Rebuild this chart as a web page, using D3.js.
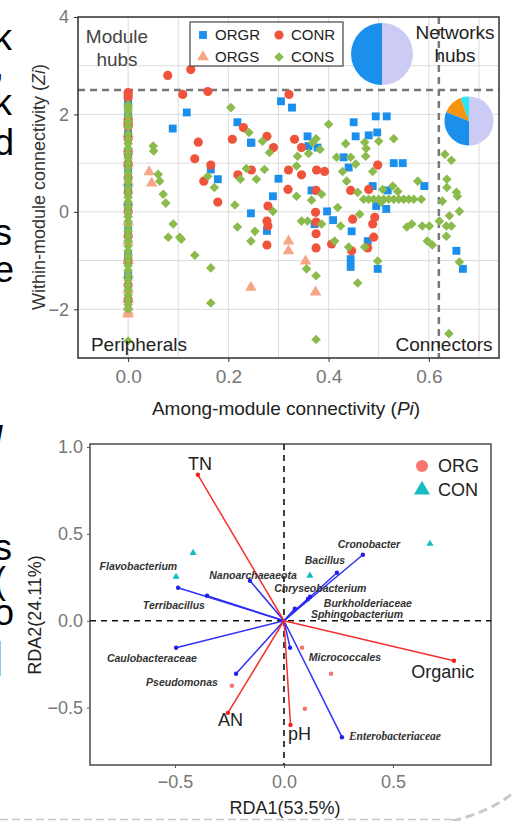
<!DOCTYPE html>
<html><head><meta charset="utf-8">
<script src="https://cdn.jsdelivr.net/npm/d3@7"></script>
<style>html,body{margin:0;padding:0;background:#fff;}svg{display:block;}</style>
</head><body>
<svg id="c" width="513" height="821"></svg>
<script>
// ---------- Top chart data (Zi-Pi) : [Pi, Zi] ----------
const orgrPts = [[0.117,2.04],[0.089,1.71],[0.218,1.84],[0.245,1.42],[0.165,0.87],[0.179,0.67],[0.245,-0.03],[0.305,2.27],[0.327,2.14],[0.494,1.96],[0.516,1.96],[0.45,1.84],[0.454,1.55],[0.48,1.57],[0.497,1.63],[0.358,1.55],[0.36,1.35],[0.378,1.32],[0.246,1.42],[0.43,1.12],[0.44,0.91],[0.53,1.0],[0.548,1.0],[0.3,0.68],[0.591,0.53],[0.366,0.44],[0.488,0.53],[0.518,0.44],[0.289,0.32],[0.277,-0.39],[0.372,-0.25],[0.397,0.01],[0.409,-0.17],[0.446,-0.4],[0.444,-0.97],[0.444,-1.13],[0.478,-0.6],[0.495,0.12],[0.515,0.06],[0.498,-1.17],[0.655,-0.8],[0.668,-1.17]];
const orgrCol = [2.3,2.2,1.95,1.9,1.6,1.2,0.9,0.5,0.1,-0.4,-0.9,-1.3];
const conrPts = [[0.079,2.80],[0.125,2.92],[0.109,2.41],[0.159,2.47],[0.23,1.73],[0.208,1.49],[0.14,1.43],[0.133,1.09],[0.165,0.96],[0.151,0.63],[0.219,0.76],[0.246,0.86],[0.179,0.2],[0.321,2.41],[0.332,1.49],[0.346,1.32],[0.277,1.55],[0.29,1.32],[0.498,0.96],[0.32,0.86],[0.346,0.76],[0.376,0.86],[0.392,0.83],[0.319,0.46],[0.375,0.44],[0.444,0.44],[0.48,0.46],[0.279,0.12],[0.277,-0.19],[0.279,-0.29],[0.277,-0.68],[0.374,-0.01],[0.375,-0.21],[0.375,-0.45],[0.375,-0.74],[0.406,-0.66],[0.446,-0.8],[0.448,-0.15],[0.478,-0.74],[0.49,-0.52],[0.488,-0.25],[0.492,-0.11]];
const conrCol = [2.45,2.4,2.35,1.9,1.85,1.8,1.75,1.5,1.2,1.0,0.7,0.4,0.0,-0.5,-1.0,-1.5,-1.8];
const orgsPts = [[0.042,0.82],[0.047,0.59],[0.245,-1.55],[0.32,-0.6],[0.32,-0.8],[0.354,-1.01],[0.374,-1.65]];
const orgsCol = [-2.1,-2.05,-1.95,-1.8,-1.6,-1.3,-1.0,-0.6,-0.2,0.2,0.6,1.0,1.3,1.6];
const consPts = [[0.205,2.14],[0.241,1.63],[0.05,1.35],[0.051,1.25],[0.06,0.77],[0.063,0.63],[0.07,0.36],[0.159,0.73],[0.172,0.5],[0.224,0.67],[0.236,0.89],[0.075,0.18],[0.09,-0.25],[0.08,-0.52],[0.103,-0.52],[0.106,-0.56],[0.133,-0.89],[0.165,-1.15],[0.165,-1.87],[0.213,0.14],[0.218,-0.31],[0.245,-0.6],[0.253,-0.4],[0.4,1.8],[0.53,1.5],[0.5,1.45],[0.434,1.4],[0.472,1.43],[0.475,1.3],[0.375,1.5],[0.368,1.42],[0.383,1.28],[0.36,1.2],[0.268,1.45],[0.282,1.22],[0.338,1.14],[0.416,1.12],[0.444,1.12],[0.474,1.14],[0.454,0.98],[0.488,0.83],[0.336,0.94],[0.428,0.83],[0.436,0.63],[0.256,0.67],[0.272,0.87],[0.632,1.18],[0.645,1.06],[0.578,0.63],[0.636,0.67],[0.636,0.5],[0.655,0.4],[0.386,0.36],[0.458,0.4],[0.508,0.46],[0.528,0.53],[0.538,0.42],[0.336,0.32],[0.47,0.26],[0.48,0.26],[0.49,0.26],[0.50,0.26],[0.51,0.26],[0.52,0.26],[0.53,0.26],[0.54,0.26],[0.55,0.26],[0.56,0.26],[0.57,0.26],[0.585,0.26],[0.289,0.01],[0.346,-0.19],[0.358,-0.19],[0.386,-0.25],[0.366,0.24],[0.356,-1.17],[0.375,-1.31],[0.458,-1.46],[0.375,-2.62],[0.418,0.09],[0.424,-0.29],[0.412,-0.6],[0.44,-0.72],[0.462,-0.05],[0.472,-0.72],[0.505,0.2],[0.498,-1.01],[0.556,-0.31],[0.566,-0.25],[0.587,-0.29],[0.601,-0.29],[0.597,-0.6],[0.607,-0.68],[0.627,0.22],[0.641,-0.08],[0.661,0.01],[0.621,-0.19],[0.635,-0.29],[0.645,-0.29],[0.635,-0.5],[0.657,0.32],[0.661,-1.03],[0.64,-2.5]];
const consCol = [2.2,2.15,2.1,2.05,1.95,1.85,1.75,1.6,1.5,1.4,1.3,1.2,1.1,1.0,0.9,0.8,0.7,0.6,0.5,0.4,0.3,0.2,0.1,0.0,-0.1,-0.2,-0.3,-0.4,-0.5,-0.6,-0.7,-0.8,-0.9,-1.0,-1.1,-1.2,-1.3,-1.4,-1.5,-1.6,-1.7,-1.8,-1.9,-2.0,-2.65];
const seriesNames = ["ORGR","CONR","ORGS","CONS"];
const seriesColors = {ORGR:"#1b8fec", CONR:"#f0533b", ORGS:"#f7a585", CONS:"#8bbb4c"};
const xTicksTop = [0.0,0.2,0.4,0.6];
const yTicksTop = [-2,0,2,4];
const ziThreshold = 2.5, piThreshold = 0.62;
const pieBig = [0.5,0.5];            // lavender, blue
const pieSmall = [0.5,0.31,0.135,0.055]; // lavender, blue, orange, cyan
const pieBigColors = ["#cccbf6","#1b8fec"];
const pieSmallColors = ["#cccbf6","#1b8fec","#f5950f","#28e6f2"];

// ---------- Bottom chart data (RDA) ----------
const envNames = ["TN","Organic","pH","AN"];
const envX = [-0.395,0.78,0.03,-0.257];
const envY = [0.84,-0.23,-0.60,-0.53];
const envLabX = [-0.385,0.729,0.071,-0.245];
const envLabY = [0.902,-0.293,-0.649,-0.569];
const taxaNames = ["Flavobacterium","Terribacillus","Nanoarchaeaeota","Caulobacteraceae","Pseudomonas","Cronobacter","Bacillus","Chryseobacterium","Burkholderiaceae","Sphingobacterium","Micrococcales","Enterobacteriaceae"];
const taxaX = [-0.486,-0.353,-0.156,-0.495,-0.22,0.362,0.243,0.12,0.11,0.05,0.028,0.266];
const taxaY = [0.19,0.144,0.23,-0.155,-0.305,0.38,0.276,0.138,0.125,0.07,-0.155,-0.67];
const taxaLabX = [-0.668,-0.505,-0.142,-0.606,-0.468,0.39,0.188,0.167,0.385,0.335,0.28,0.509];
const taxaLabY = [0.316,0.092,0.264,-0.218,-0.356,0.443,0.351,0.19,0.103,0.04,-0.207,-0.661];
const orgSamples = [[0.083,-0.155],[0.216,-0.305],[0.096,-0.506],[-0.239,-0.374]];
const conSamples = [[-0.417,0.39],[-0.495,0.253],[0.119,0.259],[0.67,0.443]];
const xTicksB = [-0.5,0.0,0.5];
const yTicksB = [-0.5,0.0,0.5,1.0];

const FONT = "'Liberation Sans', Arial, Helvetica, sans-serif";
const svg = d3.select("#c");
svg.append("rect").attr("width",513).attr("height",821).attr("fill","#fff");

// ---------- Top chart ----------
const xT = d3.scaleLinear().domain([-0.1,0.74]).range([78,499]);
const yT = d3.scaleLinear().domain([-3,4]).range([358,17]);
const gT = svg.append("g");
gT.selectAll(".gx").data(d3.range(-1,8).map(i=>i/10)).join("line")
  .attr("x1",d=>xT(d)).attr("x2",d=>xT(d)).attr("y1",17).attr("y2",358)
  .attr("stroke","#dcdcdc").attr("stroke-width",1);
gT.selectAll(".gy").data(d3.range(-3,5)).join("line")
  .attr("y1",d=>yT(d)).attr("y2",d=>yT(d)).attr("x1",78).attr("x2",499)
  .attr("stroke","#dcdcdc").attr("stroke-width",1);
gT.append("line").attr("x1",78).attr("x2",499).attr("y1",yT(ziThreshold)).attr("y2",yT(ziThreshold))
  .attr("stroke","#777").attr("stroke-width",2.5).attr("stroke-dasharray","7,5");
gT.append("line").attr("x1",xT(piThreshold)).attr("x2",xT(piThreshold)).attr("y1",17).attr("y2",358)
  .attr("stroke","#777").attr("stroke-width",2.5).attr("stroke-dasharray","7,5");

const sym = {
  ORGR: d3.symbol().type(d3.symbolSquare).size(62),
  CONR: d3.symbol().type(d3.symbolCircle).size(66),
  ORGS: d3.symbol().type(d3.symbolTriangle).size(58),
  CONS: d3.symbol().type(d3.symbolSquare).size(46)
};
function drawSeries(name, pts){
  gT.append("g").selectAll("path").data(pts).join("path")
    .attr("d", sym[name]())
    .attr("transform", d=>`translate(${xT(d[0])},${yT(d[1])})` + (name==="CONS"?" rotate(45)":""))
    .attr("fill", seriesColors[name]);
}
drawSeries("ORGS", orgsCol.map(v=>[0,v]).concat(orgsPts));
drawSeries("ORGR", orgrCol.map(v=>[0,v]).concat(orgrPts));
drawSeries("CONR", conrCol.map(v=>[0,v]).concat(conrPts));
drawSeries("CONS", consCol.map(v=>[0,v]).concat(consPts));

gT.append("rect").attr("x",78).attr("y",17).attr("width",421).attr("height",341)
  .attr("fill","none").attr("stroke","#333").attr("stroke-width",1.5);
const axB = gT.append("g").attr("transform","translate(0,358)")
  .call(d3.axisBottom(xT).tickValues(xTicksTop).tickFormat(d3.format(".1f")).tickSize(4).tickSizeOuter(0));
axB.select(".domain").remove();
axB.selectAll("line").attr("stroke","#333");
axB.selectAll("text").attr("font-family",FONT).attr("font-size",19).attr("fill","#777").attr("dy","0.95em");
const axL = gT.append("g").attr("transform","translate(78,0)")
  .call(d3.axisLeft(yT).tickValues(yTicksTop).tickFormat(d3.format("d")).tickSize(4).tickSizeOuter(0));
axL.select(".domain").remove();
axL.selectAll("line").attr("stroke","#333");
axL.selectAll("text").attr("font-family",FONT).attr("font-size",18).attr("fill","#777").attr("x",-9);

const xt = gT.append("text").attr("x",286).attr("y",415).attr("text-anchor","middle")
  .attr("font-family",FONT).attr("font-size",19).attr("fill","#222");
xt.append("tspan").text("Among-module connectivity (");
xt.append("tspan").attr("font-style","italic").text("Pi");
xt.append("tspan").text(")");
const yt = gT.append("text").attr("transform","translate(45,187) rotate(-90)").attr("text-anchor","middle")
  .attr("font-family",FONT).attr("font-size",18).attr("fill","#333");
yt.append("tspan").text("Within-module connectivity (");
yt.append("tspan").attr("font-style","italic").text("Zi");
yt.append("tspan").text(")");

const qStyle = s=>s.attr("font-family",FONT).attr("font-size",19).attr("fill","#222").attr("text-anchor","middle");
gT.append("text").call(qStyle).attr("x",117).attr("y",43).attr("fill","#444").text("Module");
gT.append("text").call(qStyle).attr("x",117).attr("y",66).attr("fill","#444").text("hubs");
gT.append("text").call(qStyle).attr("x",455).attr("y",39).text("Networks");
gT.append("text").call(qStyle).attr("x",455).attr("y",62).text("hubs");
gT.append("text").call(qStyle).attr("x",139).attr("y",351).text("Peripherals");
gT.append("text").call(qStyle).attr("x",444).attr("y",351).text("Connectors");

const lg = gT.append("g");
lg.append("rect").attr("x",190).attr("y",22).attr("width",153).attr("height",44)
  .attr("fill","#fff").attr("stroke","#444").attr("stroke-width",1.2);
const legendItems = [["ORGR",203,35],["CONR",279,35],["ORGS",203,57],["CONS",279,57]];
legendItems.forEach(([n,x,y])=>{
  lg.append("path").attr("d",sym[n]()).attr("fill",seriesColors[n])
    .attr("transform",`translate(${x},${y})`+(n==="CONS"?" rotate(45)":""));
  lg.append("text").attr("x",x+12).attr("y",y).attr("dy","0.36em")
    .attr("font-family",FONT).attr("font-size",15).attr("fill","#222").text(n);
});

const pieGen = d3.pie().sort(null).value(d=>d);
function drawPie(vals, cols, cx, cy, r){
  const arc = d3.arc().innerRadius(0).outerRadius(r);
  gT.append("g").attr("transform",`translate(${cx},${cy})`)
    .selectAll("path").data(pieGen(vals)).join("path")
    .attr("d",arc).attr("fill",(d,i)=>cols[i]);
}
drawPie(pieBig, pieBigColors, 382, 54, 31);
drawPie(pieSmall, pieSmallColors, 469, 121, 24.5);

// ---------- Bottom chart ----------
const xB = d3.scaleLinear().domain([-0.89,0.95]).range([90,491]);
const yB = d3.scaleLinear().domain([-0.83,1.017]).range([765,444]);
const gB = svg.append("g");
gB.append("rect").attr("x",90).attr("y",444).attr("width",401).attr("height",321)
  .attr("fill","none").attr("stroke","#555").attr("stroke-width",1.6);
gB.append("line").attr("x1",90).attr("x2",491).attr("y1",yB(0)).attr("y2",yB(0))
  .attr("stroke","#111").attr("stroke-width",1.6).attr("stroke-dasharray","6,5");
gB.append("line").attr("x1",xB(0)).attr("x2",xB(0)).attr("y1",444).attr("y2",765)
  .attr("stroke","#111").attr("stroke-width",1.6).attr("stroke-dasharray","6,5");

const fmtB = d=>d3.format(".1f")(d).replace("-","\u2212");
const bxB = gB.append("g").attr("transform","translate(0,765)")
  .call(d3.axisBottom(xB).tickValues(xTicksB).tickFormat(fmtB).tickSize(3).tickSizeOuter(0));
bxB.select(".domain").remove();
bxB.selectAll("line").attr("stroke","#555");
bxB.selectAll("text").attr("font-family",FONT).attr("font-size",18).attr("fill","#777").attr("dy","0.95em");
const byB = gB.append("g").attr("transform","translate(90,0)")
  .call(d3.axisLeft(yB).tickValues(yTicksB).tickFormat(fmtB).tickSize(3).tickSizeOuter(0));
byB.select(".domain").remove();
byB.selectAll("line").attr("stroke","#555");
byB.selectAll("text").attr("font-family",FONT).attr("font-size",18).attr("fill","#777").attr("x",-7);

gB.append("text").attr("x",285).attr("y",814).attr("text-anchor","middle")
  .attr("font-family",FONT).attr("font-size",18).attr("fill","#222").text("RDA1(53.5%)");
gB.append("text").attr("transform","translate(41,615) rotate(-90)").attr("text-anchor","middle")
  .attr("font-family",FONT).attr("font-size",18).attr("fill","#222").text("RDA2(24.11%)");

taxaNames.forEach((n,i)=>{
  gB.append("line").attr("x1",xB(0)).attr("y1",yB(0)).attr("x2",xB(taxaX[i])).attr("y2",yB(taxaY[i]))
    .attr("stroke","#2f2ff5").attr("stroke-width",1.5);
  gB.append("circle").attr("cx",xB(taxaX[i])).attr("cy",yB(taxaY[i])).attr("r",2.2).attr("fill","#2020f0");
});
envNames.forEach((n,i)=>{
  gB.append("line").attr("x1",xB(0)).attr("y1",yB(0)).attr("x2",xB(envX[i])).attr("y2",yB(envY[i]))
    .attr("stroke","#f53030").attr("stroke-width",1.5);
  gB.append("circle").attr("cx",xB(envX[i])).attr("cy",yB(envY[i])).attr("r",2.2).attr("fill","#f02020");
  gB.append("text").attr("x",xB(envLabX[i])).attr("y",yB(envLabY[i])).attr("dy","0.36em")
    .attr("text-anchor","middle").attr("font-family",FONT).attr("font-size",18).attr("fill","#222").text(n);
});
taxaNames.forEach((n,i)=>{
  const serif = n==="Enterobacteriaceae";
  gB.append("text").attr("x",xB(taxaLabX[i])).attr("y",yB(taxaLabY[i])).attr("dy","0.36em")
    .attr("text-anchor","middle")
    .attr("font-family", serif ? "'Liberation Serif', 'Times New Roman', serif" : FONT)
    .attr("font-size", serif ? 11.5 : 10.5).attr("font-weight","bold").attr("font-style","italic")
    .attr("fill","#333").text(n);
});
gB.selectAll(".orgS").data(orgSamples).join("circle")
  .attr("cx",d=>xB(d[0])).attr("cy",d=>yB(d[1])).attr("r",2.3).attr("fill","#f8766d");
gB.selectAll(".conS").data(conSamples).join("path")
  .attr("d",d3.symbol().type(d3.symbolTriangle).size(22)())
  .attr("transform",d=>`translate(${xB(d[0])},${yB(d[1])})`).attr("fill","#13bdc2");
gB.append("circle").attr("cx",422).attr("cy",466).attr("r",6).attr("fill","#f8766d");
gB.append("path").attr("d",d3.symbol().type(d3.symbolTriangle).size(110)()).attr("transform","translate(422,490)").attr("fill","#13bdc2");
gB.append("text").attr("x",438).attr("y",466).attr("dy","0.36em").attr("font-family",FONT).attr("font-size",18).attr("fill","#222").text("ORG");
gB.append("text").attr("x",438).attr("y",490).attr("dy","0.36em").attr("font-family",FONT).attr("font-size",18).attr("fill","#222").text("CON");

// ---------- page fragments around the figure ----------
const marginGlyphs = [["k",50],[",",78],["k",115],["d",155],["s",245],["e",282],["l",452],["s",560],["(",593],["o",625],["|",668]];
marginGlyphs.forEach(([c,y])=>{
  svg.append("text").attr("x",-6).attr("y",y).attr("font-family",FONT).attr("font-size",36)
    .attr("font-style", c==="l"?"italic":"normal").attr("fill","#000").text(c);
});
svg.append("line").attr("x1",0).attr("x2",452).attr("y1",819.5).attr("y2",819.5)
  .attr("stroke","#c8c8c8").attr("stroke-width",1.5).attr("stroke-dasharray","8,4");
svg.append("path").attr("d","M452,821 Q490,812 513,793").attr("fill","none")
  .attr("stroke","#c8c8c8").attr("stroke-width",3).attr("stroke-dasharray","9,5");
</script>
</body></html>
